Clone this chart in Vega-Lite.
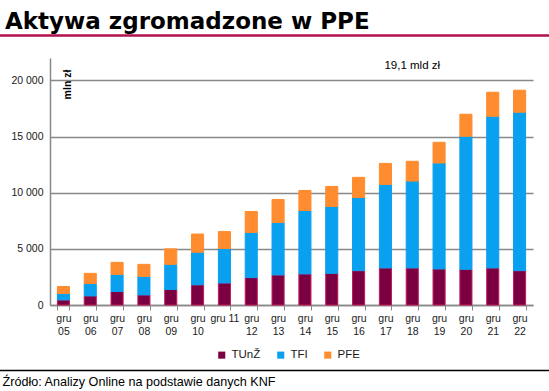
{
  "$schema": "https://vega.github.io/schema/vega-lite/v6.json",
  "autosize": "none",
  "width": 483,
  "height": 247,
  "padding": {"left": 50, "top": 58, "right": 16, "bottom": 86},
  "background": "white",
  "config": {"view": {"stroke": null}, "font": "Liberation Sans"},
  "title": {
    "text": "Aktywa zgromadzone w PPE",
    "anchor": "start",
    "frame": "group",
    "dx": -45,
    "dy": 25,
    "offset": 7,
    "baseline": "alphabetic",
    "font": "DejaVu Sans",
    "fontSize": 23,
    "fontWeight": "bold",
    "color": "#000000"
  },
  "layer": [
    {
      "data": {"values": [
        {"m": "gru 05", "s": "TUnŽ", "v": 450}, {"m": "gru 05", "s": "TFI", "v": 570}, {"m": "gru 05", "s": "PFE", "v": 630},
        {"m": "gru 06", "s": "TUnŽ", "v": 810}, {"m": "gru 06", "s": "TFI", "v": 1110}, {"m": "gru 06", "s": "PFE", "v": 900},
        {"m": "gru 07", "s": "TUnŽ", "v": 1200}, {"m": "gru 07", "s": "TFI", "v": 1530}, {"m": "gru 07", "s": "PFE", "v": 1070},
        {"m": "gru 08", "s": "TUnŽ", "v": 900}, {"m": "gru 08", "s": "TFI", "v": 1650}, {"m": "gru 08", "s": "PFE", "v": 1070},
        {"m": "gru 09", "s": "TUnŽ", "v": 1380}, {"m": "gru 09", "s": "TFI", "v": 2240}, {"m": "gru 09", "s": "PFE", "v": 1380},
        {"m": "gru 10", "s": "TUnŽ", "v": 1800}, {"m": "gru 10", "s": "TFI", "v": 2900}, {"m": "gru 10", "s": "PFE", "v": 1620},
        {"m": "gru 11", "s": "TUnŽ", "v": 1960}, {"m": "gru 11", "s": "TFI", "v": 3070}, {"m": "gru 11", "s": "PFE", "v": 1510},
        {"m": "gru 12", "s": "TUnŽ", "v": 2440}, {"m": "gru 12", "s": "TFI", "v": 4020}, {"m": "gru 12", "s": "PFE", "v": 1870},
        {"m": "gru 13", "s": "TUnŽ", "v": 2680}, {"m": "gru 13", "s": "TFI", "v": 4670}, {"m": "gru 13", "s": "PFE", "v": 2050},
        {"m": "gru 14", "s": "TUnŽ", "v": 2770}, {"m": "gru 14", "s": "TFI", "v": 5650}, {"m": "gru 14", "s": "PFE", "v": 1780},
        {"m": "gru 15", "s": "TUnŽ", "v": 2820}, {"m": "gru 15", "s": "TFI", "v": 5960}, {"m": "gru 15", "s": "PFE", "v": 1780},
        {"m": "gru 16", "s": "TUnŽ", "v": 3060}, {"m": "gru 16", "s": "TFI", "v": 6520}, {"m": "gru 16", "s": "PFE", "v": 1790},
        {"m": "gru 17", "s": "TUnŽ", "v": 3300}, {"m": "gru 17", "s": "TFI", "v": 7440}, {"m": "gru 17", "s": "PFE", "v": 1870},
        {"m": "gru 18", "s": "TUnŽ", "v": 3300}, {"m": "gru 18", "s": "TFI", "v": 7740}, {"m": "gru 18", "s": "PFE", "v": 1760},
        {"m": "gru 19", "s": "TUnŽ", "v": 3210}, {"m": "gru 19", "s": "TFI", "v": 9440}, {"m": "gru 19", "s": "PFE", "v": 1840},
        {"m": "gru 20", "s": "TUnŽ", "v": 3180}, {"m": "gru 20", "s": "TFI", "v": 11850}, {"m": "gru 20", "s": "PFE", "v": 1960},
        {"m": "gru 21", "s": "TUnŽ", "v": 3300}, {"m": "gru 21", "s": "TFI", "v": 13510}, {"m": "gru 21", "s": "PFE", "v": 2140},
        {"m": "gru 22", "s": "TUnŽ", "v": 3060}, {"m": "gru 22", "s": "TFI", "v": 14110}, {"m": "gru 22", "s": "PFE", "v": 1960}
      ]},
      "transform": [{"calculate": "indexof(['TUnŽ','TFI','PFE'], datum.s)", "as": "o"}],
      "mark": {"type": "bar", "strokeWidth": 1},
      "encoding": {
        "x": {
          "field": "m", "type": "nominal", "sort": null,
          "scale": {"paddingInner": 0.55, "paddingOuter": 0.275},
          "axis": {
            "title": "Źródło: Analizy Online na podstawie danych KNF",
            "titleX": -48, "titleY": 76, "titleAlign": "left", "titleAnchor": "start", "titleBaseline": "middle",
            "titleFont": "Liberation Sans", "titleFontSize": 12.6, "titleFontWeight": "normal", "titleColor": "#000000",
            "labelAngle": 0,
            "labelExpr": "isValid(datum.value) ? (datum.value == 'gru 11' ? datum.value : split(datum.value, ' ')) : ''",
            "labelFontSize": 10.5, "labelColor": "#1a1a1a", "labelLineHeight": 13, "labelPadding": 3,
            "labelBaseline": "top",
            "tickBand": "extent", "tickSize": 5, "tickColor": "#888888",
            "domainColor": "#888888", "domainWidth": 1.5, "grid": false
          }
        },
        "y": {
          "field": "v", "type": "quantitative", "stack": "zero",
          "scale": {"domain": [0, 22000], "nice": false},
          "axis": {
            "values": [0, 5000, 10000, 15000, 20000],
            "labelExpr": "replace(format(datum.value, ','), ',', ' ')",
            "labelFontSize": 10.5, "labelColor": "#1a1a1a", "labelPadding": 7,
            "ticks": false, "domainColor": "#888888", "domainWidth": 1.5,
            "grid": true, "gridColor": "#888888", "gridWidth": 1.5,
            "title": "mln zł", "titleX": 17, "titleY": 26, "titleAngle": -90,
            "titleAlign": "center", "titleBaseline": "middle",
            "titleFontSize": 10.5, "titleFontWeight": "bold", "titleColor": "#000000"
          }
        },
        "color": {
          "field": "s", "type": "nominal",
          "scale": {"domain": ["TUnŽ", "TFI", "PFE"], "range": ["#7B0041", "#0AA0F0", "#FF8C2E"]},
          "legend": {
            "title": null, "orient": "none", "legendX": 166, "legendY": 291, "direction": "horizontal",
            "symbolType": "square", "symbolSize": 50, "symbolStrokeWidth": 0,
            "labelFontSize": 11.5, "labelColor": "#1a1a1a", "columnPadding": 14, "labelOffset": 4
          }
        },
        "stroke": {
          "field": "s", "type": "nominal",
          "scale": {"domain": ["TUnŽ", "TFI", "PFE"], "range": ["#C2185B", "#0AA0F0", "#FF8C2E"]},
          "legend": null
        },
        "order": {"field": "o", "type": "quantitative"}
      }
    },
    {
      "data": {"values": [{"m": "gru 18", "v": 21300, "t": "19,1 mld zł"}]},
      "mark": {"type": "text", "fontSize": 11.5, "color": "#000000", "align": "center", "baseline": "middle"},
      "encoding": {
        "x": {"field": "m", "type": "nominal"},
        "y": {"field": "v", "type": "quantitative"},
        "text": {"field": "t"}
      }
    },
    {
      "data": {"values": [{"a": 1}]},
      "mark": {"type": "rule", "color": "#B0104F", "strokeWidth": 2.5},
      "encoding": {"x": {"value": -50}, "x2": {"value": 499}, "y": {"value": -22.5}}
    },
    {
      "data": {"values": [{"a": 1}]},
      "mark": {"type": "rule", "color": "#000000", "strokeWidth": 1.5},
      "encoding": {"x": {"value": -50}, "x2": {"value": 499}, "y": {"value": 312.5}}
    }
  ]
}
